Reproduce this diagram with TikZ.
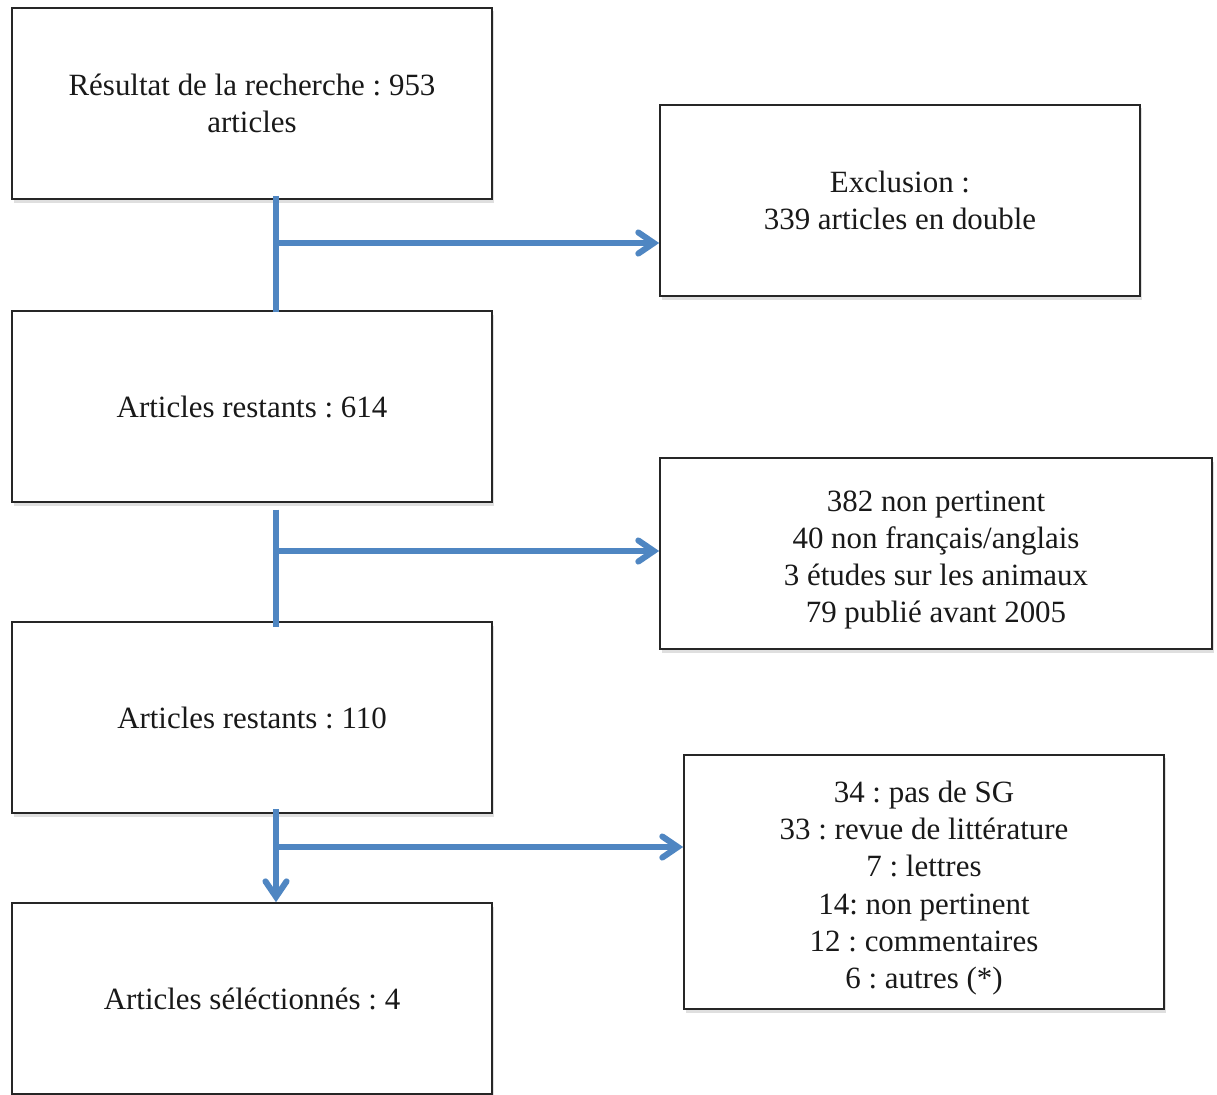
\documentclass[tikz,border=0pt]{standalone}
\usepackage{fontspec}
\setmainfont{Liberation Serif}
\usepackage{xcolor}
\definecolor{flowblue}{RGB}{79,134,194}
\usetikzlibrary{arrows.meta,positioning,calc,shadows}
\newcommand{\topstrut}{\rule{0pt}{24pt}}
\tikzset{
  stepbox/.style={draw=black!85, line width=1.1pt, fill=white, align=center,
                  font=\fontsize{22}{26.5}\selectfont\frenchspacing, text=black!90,
                  minimum width=12cm, minimum height=4.775cm, inner sep=0pt,
                  drop shadow={shadow xshift=1.5pt, shadow yshift=-2.5pt, opacity=0.25}},
  flow/.style={draw=flowblue, line width=4.3pt},
  flowarrow/.style={flow, -{Straight Barb[length=11pt, width=15pt, line cap=round, line width=4.3pt]}},
}

\begin{document}
\begin{tikzpicture}[x=0.025cm, y=-0.025cm]
  \useasboundingbox (0,0) rectangle (1217,1094);
  % Main boxes
  \node[stepbox] (res)   at (252,103.5) {Résultat de la recherche : 953\\articles};
  \node[stepbox] (rest1) at (252,406.5) {Articles restants : 614};
  \node[stepbox] (rest2) at (252,717.5) {Articles restants : 110};
  \node[stepbox] (sel)   at (252,998.5) {Articles séléctionnés : 4};
  % Exclusion boxes
  \node[stepbox] (excl1) at (900,200.5) {Exclusion :\\339 articles en double};
  \node[stepbox, minimum width=13.8cm] (excl2) at (936,553.5)
        {\topstrut 382 non pertinent\\40 non français/anglais\\3 études sur les animaux\\79 publié avant 2005};
  \node[stepbox, minimum height=6.35cm] (excl3) at (924,882)
        {\topstrut 34 : pas de SG\\33 : revue de littérature\\7 : lettres\\14: non pertinent\\12 : commentaires\\6 : autres (*)};

  % Junctions
  \coordinate (j1) at (276,243);
  \coordinate (j2) at (276,551);
  \coordinate (j3) at (276,847);

  % Connectors
  \draw[flow] ([xshift=0.6cm,yshift=0.1cm]res.south) -- ([xshift=0.6cm,yshift=-0.05cm]rest1.north);
  \draw[flowarrow] (j1) -- (j1 -| excl1.west);
  \draw[flow] ([xshift=0.6cm,yshift=-0.17cm]rest1.south) -- ([xshift=0.6cm,yshift=-0.15cm]rest2.north);
  \draw[flowarrow] (j2) -- (j2 -| excl2.west);
  \draw[flowarrow] ([xshift=0.6cm,yshift=0.12cm]rest2.south) -- ([xshift=0.6cm]sel.north);
  \draw[flowarrow] (j3) -- (j3 -| excl3.west);
\end{tikzpicture}
\end{document}
